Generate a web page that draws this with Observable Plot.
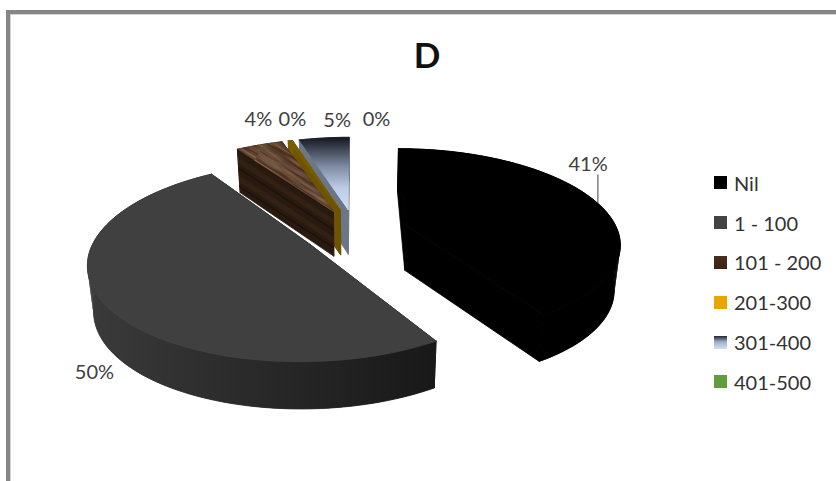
<!DOCTYPE html>
<html>
<head>
<meta charset="utf-8">
<script src="https://cdn.jsdelivr.net/npm/d3@7"></script>
<script src="https://cdn.jsdelivr.net/npm/@observablehq/plot@0.6"></script>
<style>
  html, body { margin: 0; padding: 0; background: #fff; overflow: hidden; }
  #page { position: relative; width: 836px; height: 481px; overflow: hidden; font-family: Lato, sans-serif; }
  #frame { position: absolute; left: 6px; top: 10px; width: 900px; height: 600px; box-sizing: border-box;
           border-left: 4px solid #868686; border-top: 4px solid #868686; box-shadow: inset 1px 1px 0 #d4d4d4; }
  #chart { position: absolute; left: 0; top: 0; }
  #legend { position: absolute; left: 714px; top: 163px; }
  .row { display: flex; align-items: center; height: 39.8px; font-size: 20px; color: #333; white-space: pre; }
  .swatch { width: 13px; height: 13px; margin-right: 7px; flex: none; }
</style>
</head>
<body>
<div id="page">
  <div id="frame"></div>
  <div id="chart"></div>
  <div id="legend"></div>
</div>
<script>
// Share of respondents in each band, clockwise from twelve o'clock.
const bands = ["Nil", "1 - 100", "101 - 200", "201-300", "301-400", "401-500"];
const shares = [41.2, 49.5, 4.3, 0.4, 4.6, 0];
const chartTitle = "D";

// Look of each band: top face, outer wall, radial wall, legend swatch.
const topFills = ["#000000", "#404040", "url(#wood)", "#7a5c00", "url(#steel)", "#5f9e3f"];
const rimFills = ["#000000", "url(#shade)", "url(#bark)", "#7a5c00", "#6b7686", "#4a7d31"];
const wallFills = ["#000000", "#1c1c1c", "url(#bark)", "#6f5400", "#6b7686", "#4a7d31"];
const swatchFills = ["#000", "#434343", "linear-gradient(#4a2e1c,#3a2214)", "#e6a800",
                     "linear-gradient(#1f2430,#9fb0cc 45%,#d5e0f2)", "#5f9e3f"];

// Nudges in pixels from each slice's rim to its percentage label.
const labelNudge = [[-8, -37], [-8, 71], [-1, -25], [2, -21], [13, -17], [21, -17.5]];

// Pie geometry in unit-radius coordinates; the x and y scales turn it into pixels.
const explode = 0.25;     // how far every slice is pulled from the centre
const vanish = 0.175;     // strength of the perspective along the depth axis
const thickness = 0.49;   // height of the extruded wall
const wallVanish = 0.04;  // the wall height changes less with depth than the top face
const baseTaper = 0.977;  // the lower face sits further away, so it is a little narrower

const project = (angle, radius, mid, lift = 0) => {
  const X = radius * Math.sin(angle) + explode * Math.sin(mid);
  const Y = radius * Math.cos(angle) + explode * Math.cos(mid);
  const w = 1 / (1 + vanish * Y);
  return {x: X * w * (lift ? baseTaper : 1), y: Y * w - lift / (1 + wallVanish * Y)};
};

const arcs = d3.pie().sort(null)(shares).map((a, i) => ({
  i, a0: a.startAngle, a1: a.endAngle, mid: (a.startAngle + a.endAngle) / 2
}));

const arcAngles = (a) => {
  const n = Math.max(2, Math.ceil((a.a1 - a.a0) / 0.03));
  return d3.range(n + 1).map((k) => a.a0 + (a.a1 - a.a0) * k / n);
};

// Each face is a closed outline; a stroke in its own colour hides the seams between neighbours.
const face = (points, fill) =>
  Plot.line([...points, points[0]], {x: "x", y: "y", fill, stroke: fill, strokeWidth: 0.8, curve: "linear"});

// The outer wall is a run of narrow quads, so its silhouette follows the tangent between both faces.
function rimStrip(top, bottom, fill) {
  const quads = d3.pairs(d3.range(top.length)).flatMap(([j, k]) =>
    [top[j], top[k], bottom[k], bottom[j], top[j]].map((p) => ({...p, quad: j})));
  return Plot.line(quads, {x: "x", y: "y", z: "quad", fill, curve: "linear"});
}

function sliceMarks(a) {
  const top = arcAngles(a).map((t) => project(t, 1, a.mid));
  const bottom = arcAngles(a).map((t) => project(t, 1, a.mid, thickness));
  const apexTop = project(0, 0, a.mid);
  const apexBottom = project(0, 0, a.mid, thickness);
  return [
    face([top[0], bottom[0], apexBottom, apexTop], wallFills[a.i]),
    face([top[top.length - 1], bottom[bottom.length - 1], apexBottom, apexTop], wallFills[a.i]),
    rimStrip(top, bottom, rimFills[a.i]),
    // The wall's outline goes over the quads so that their joins disappear.
    face([...top, ...bottom.slice().reverse()], rimFills[a.i]),
    face([apexTop, ...top], topFills[a.i])
  ];
}

const defs = () => d3.create("svg:defs").html(`
  <linearGradient id="shade" gradientUnits="userSpaceOnUse" x1="90" x2="440" y1="0" y2="0">
    <stop offset="0" stop-color="#3a3a3a"/><stop offset="0.45" stop-color="#2a2a2a"/><stop offset="1" stop-color="#181818"/>
  </linearGradient>
  <linearGradient id="steel" x1="0" x2="0" y1="0" y2="1">
    <stop offset="0" stop-color="#14171f"/><stop offset="0.4" stop-color="#7d8aa3"/>
    <stop offset="0.7" stop-color="#bccce6"/><stop offset="1" stop-color="#d3dff2"/>
  </linearGradient>
  <filter id="grain" x="0" y="0" width="100%" height="100%">
    <feTurbulence type="fractalNoise" baseFrequency="0.02 0.3" numOctaves="3" seed="4"/>
    <feColorMatrix type="matrix" values="0 0 0 0 0.47  0 0 0 0 0.32  0 0 0 0 0.22  1.3 0 0 0 -0.42"/>
  </filter>
  <pattern id="wood" patternUnits="userSpaceOnUse" width="300" height="300" patternTransform="rotate(32)">
    <rect width="300" height="300" fill="#4a2f1e"/>
    <rect width="300" height="300" filter="url(#grain)"/>
  </pattern>
  <pattern id="bark" patternUnits="userSpaceOnUse" width="300" height="15" patternTransform="rotate(33)">
    <rect width="300" height="15" fill="#291a10"/>
    <rect y="2" width="300" height="5" fill="#322015"/>
    <rect y="10" width="300" height="2" fill="#1f1309"/>
  </pattern>`).node();

// Far slices go first so the nearer ones overlap them.
const paintOrder = [5, 4, 3, 2, 1, 0];
const slices = paintOrder.map((i) => arcs[i]).filter((a) => a.a1 > a.a0).flatMap(sliceMarks);

const labelMarks = arcs.map((a) => {
  const anchor = project(a.mid, 1, a.mid);
  return Plot.text([anchor], {
    x: "x", y: "y", text: () => `${Math.round(shares[a.i])}%`,
    dx: labelNudge[a.i][0], dy: labelNudge[a.i][1],
    fontSize: 20, fill: "#404040", fontFamily: "Lato, sans-serif"
  });
});

// The Nil slice carries a short leader from its rim up to its label.
const leaderFoot = project(arcs[0].mid + 0.02, 1, arcs[0].mid);
const leader = Plot.ruleX([leaderFoot], {
  x: "x", y1: "y", y2: (d) => d.y + 0.31, stroke: "#404040", strokeWidth: 1
});

const plot = Plot.plot({
  width: 836, height: 481, margin: 0, style: {background: "transparent"},
  x: {domain: [-1, 1], range: [143, 567], axis: null},
  y: {domain: [-1, 1], range: [323, 139], axis: null},
  marks: [
    defs,
    ...slices,
    leader,
    ...labelMarks
  ]
});
document.getElementById("chart").append(plot);

// Chart title sits above the pie, as real text in the same SVG.
d3.select(plot).append("text").attr("x", 427).attr("y", 68).attr("text-anchor", "middle")
  .attr("font-family", "Lato, sans-serif").attr("font-weight", 700).attr("font-size", 35).attr("fill", "#111")
  .text(chartTitle);

const legend = d3.select("#legend").selectAll("div").data(bands).join("div").attr("class", "row");
legend.append("div").attr("class", "swatch").style("background", (d, i) => swatchFills[i]);
legend.append("span").text((d) => d);
</script>
</body>
</html>
